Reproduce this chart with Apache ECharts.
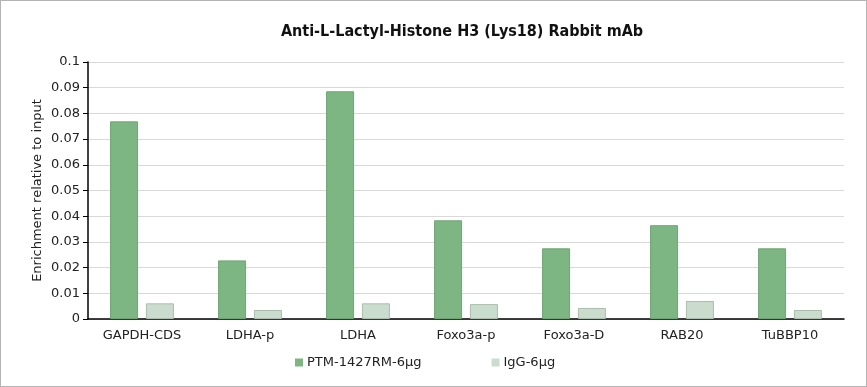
<!DOCTYPE html>
<html><head><meta charset="utf-8">
<script src="https://cdn.jsdelivr.net/npm/echarts@6/dist/echarts.min.js"></script>
<style>
html,body{margin:0;padding:0;background:#fff;}
#c{width:865px;height:385px;border:1px solid #b4b4b4;}
</style></head>
<body><div id="c"></div>
<script>
const title = 'Anti-L-Lactyl-Histone H3 (Lys18) Rabbit mAb';
const yAxisName = 'Enrichment relative to input';
const categories = ['GAPDH-CDS','LDHA-p','LDHA','Foxo3a-p','Foxo3a-D','RAB20','TuBBP10'];
const seriesNames = ['PTM-1427RM-6\u03bcg','IgG-6\u03bcg'];
const ptmValues = [0.0769, 0.0228, 0.0886, 0.0384, 0.0275, 0.0365, 0.0275];
const iggValues = [0.0061, 0.0035, 0.0061, 0.0058, 0.0043, 0.0070, 0.0035];

const chart = echarts.init(document.getElementById('c'), null, {renderer:'canvas'});
const font = 'Verdana, "DejaVu Sans", sans-serif';
chart.setOption({
  animation:false,
  backgroundColor:'#fff',
  title:{text:title,left:456,top:18,textAlign:'center',
    textStyle:{fontFamily:'"DejaVu Sans Condensed", "DejaVu Sans", sans-serif',fontWeight:'bold',fontSize:16,color:'#111'}},
  legend:{bottom:12,left:289,itemWidth:8,itemHeight:8,itemGap:70,icon:'rect',
    itemStyle:{borderWidth:0},
    textStyle:{fontFamily:font,fontSize:13,color:'#222',padding:[0,0,0,-1]},data:seriesNames},
  grid:{left:87,right:22,top:61,bottom:67},
  xAxis:{type:'category',data:categories,
    axisLine:{lineStyle:{color:'#000',width:1.5}},
    axisTick:{alignWithLabel:true,length:5,lineStyle:{color:'#000'}},
    axisLabel:{fontFamily:font,fontSize:13,color:'#222',margin:10}},
  yAxis:{type:'value',min:0,max:0.1,interval:0.01,
    name:yAxisName,nameLocation:'middle',nameGap:44,nameMoveOverlap:false,
    nameTextStyle:{fontFamily:font,fontSize:13,color:'#222'},
    axisLine:{show:true,lineStyle:{color:'#000',width:1.5}},
    axisTick:{show:true,length:5,lineStyle:{color:'#000'}},
    axisLabel:{fontFamily:font,fontSize:13,color:'#222',margin:8,
      formatter:v=>String(parseFloat(v.toFixed(2)))},
    splitLine:{lineStyle:{color:'#d9d9d9'}}},
  series:[
    {name:seriesNames[0],type:'bar',data:ptmValues,barWidth:28,barGap:'28%',
     itemStyle:{color:'#7db583',borderColor:'#6ea474',borderWidth:1}},
    {name:seriesNames[1],type:'bar',data:iggValues,barWidth:28,
     itemStyle:{color:'#cadcce',borderColor:'#abbcaf',borderWidth:1}}
  ]
});
</script></body></html>
